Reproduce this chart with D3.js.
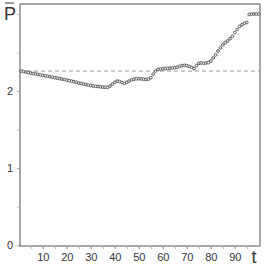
<!DOCTYPE html>
<html>
<head>
<meta charset="utf-8">
<script src="https://cdn.jsdelivr.net/npm/d3@7"></script>
<style>
  body { margin: 0; background: #fff; }
  svg { display: block; font-family: "Liberation Sans", Arial, sans-serif; }
</style>
</head>
<body>
<svg id="chart" width="273" height="267"></svg>
<script>
// mean value P over time t = 1..100
const tValues = d3.range(1, 101);
const pValues = [
  2.260, 2.254, 2.247, 2.240, 2.234, 2.228, 2.222, 2.216, 2.210, 2.204,
  2.198, 2.192, 2.186, 2.180, 2.174, 2.168, 2.162, 2.156, 2.150, 2.143,
  2.136, 2.129, 2.122, 2.114, 2.106, 2.098, 2.091, 2.085, 2.078, 2.072,
  2.066, 2.062, 2.060, 2.056, 2.052, 2.050, 2.048, 2.065, 2.090, 2.115,
  2.130, 2.125, 2.110, 2.100, 2.115, 2.130, 2.145, 2.155, 2.160, 2.160,
  2.158, 2.155, 2.152, 2.155, 2.175, 2.220, 2.260, 2.280, 2.285, 2.290,
  2.290, 2.295, 2.298, 2.300, 2.305, 2.310, 2.320, 2.330, 2.335, 2.330,
  2.320, 2.310, 2.290, 2.330, 2.360, 2.365, 2.360, 2.365, 2.370, 2.390,
  2.430, 2.470, 2.520, 2.560, 2.600, 2.630, 2.650, 2.680, 2.710, 2.760,
  2.800, 2.840, 2.860, 2.880, 2.890, 2.995, 3.000, 3.000, 3.000, 3.000
];
const refLevel = 2.26;
const xMajor = [10, 20, 30, 40, 50, 60, 70, 80, 90];
const xMinor = d3.range(5, 100, 5);
const yLabels = [0, 1, 2];
const yMinor = [0.5, 1.5, 2.5, 3];

const svg = d3.select("#chart");
const mLeft = 20, mRight = 260, mTop = 4, mBottom = 246;

const x = d3.scaleLinear().domain([0.5, 100.5]).range([mLeft, mRight]);
const y = d3.scaleLinear().domain([-0.01, 3.13]).range([mBottom, mTop]);

// frame
svg.append("rect")
  .attr("x", mLeft).attr("y", mTop)
  .attr("width", mRight - mLeft).attr("height", mBottom - mTop)
  .attr("fill", "none").attr("stroke", "#555").attr("stroke-width", 1);

// x axis
svg.append("g").attr("transform", `translate(0,${mBottom})`)
  .call(d3.axisBottom(x).tickValues(xMinor).tickSize(3).tickFormat(""))
  .call(g => g.select(".domain").remove())
  .call(g => g.selectAll("line").attr("stroke", "#bbb"));
svg.append("g").attr("transform", `translate(0,${mBottom})`)
  .call(d3.axisBottom(x).tickValues(xMajor).tickSize(3).tickPadding(4))
  .call(g => g.select(".domain").remove())
  .call(g => g.selectAll("line").attr("stroke", "#999"))
  .call(g => g.selectAll("text").attr("fill", "#333").style("font-size", "11px"));

// y axis
svg.append("g").attr("transform", `translate(${mLeft},0)`)
  .call(d3.axisLeft(y).tickValues(yMinor).tickSize(3).tickFormat(""))
  .call(g => g.select(".domain").remove())
  .call(g => g.selectAll("line").attr("stroke", "#bbb"));
svg.append("g").attr("transform", `translate(${mLeft},0)`)
  .call(d3.axisLeft(y).tickValues(yLabels).tickSize(3).tickPadding(4).tickFormat(d3.format("d")))
  .call(g => g.select(".domain").remove())
  .call(g => g.selectAll("line").attr("stroke", "#999"))
  .call(g => g.selectAll("text").attr("fill", "#333").style("font-size", "11px"));

// axis titles
svg.append("text")
  .attr("x", 10).attr("y", y(3) + 6)
  .attr("text-anchor", "middle")
  .attr("fill", "#333").style("font-size", "18px")
  .text("P");
svg.append("line")
  .attr("x1", 5).attr("x2", 14).attr("y1", 3).attr("y2", 3)
  .attr("stroke", "#333").attr("stroke-width", 1);
svg.append("text")
  .attr("x", 254).attr("y", 263)
  .attr("text-anchor", "middle")
  .attr("fill", "#333").style("font-size", "18px")
  .text("t");

// reference dashed line
svg.append("line")
  .attr("x1", mLeft).attr("x2", mRight)
  .attr("y1", y(refLevel)).attr("y2", y(refLevel))
  .attr("stroke", "#999").attr("stroke-width", 1)
  .attr("stroke-dasharray", "4,3");

// points
svg.append("g")
  .selectAll("circle")
  .data(tValues)
  .join("circle")
  .attr("cx", d => x(d))
  .attr("cy", (d, i) => y(pValues[i]))
  .attr("r", 1.4)
  .attr("fill", "#eee")
  .attr("stroke", "#444")
  .attr("stroke-width", 0.8);
</script>
</body>
</html>
